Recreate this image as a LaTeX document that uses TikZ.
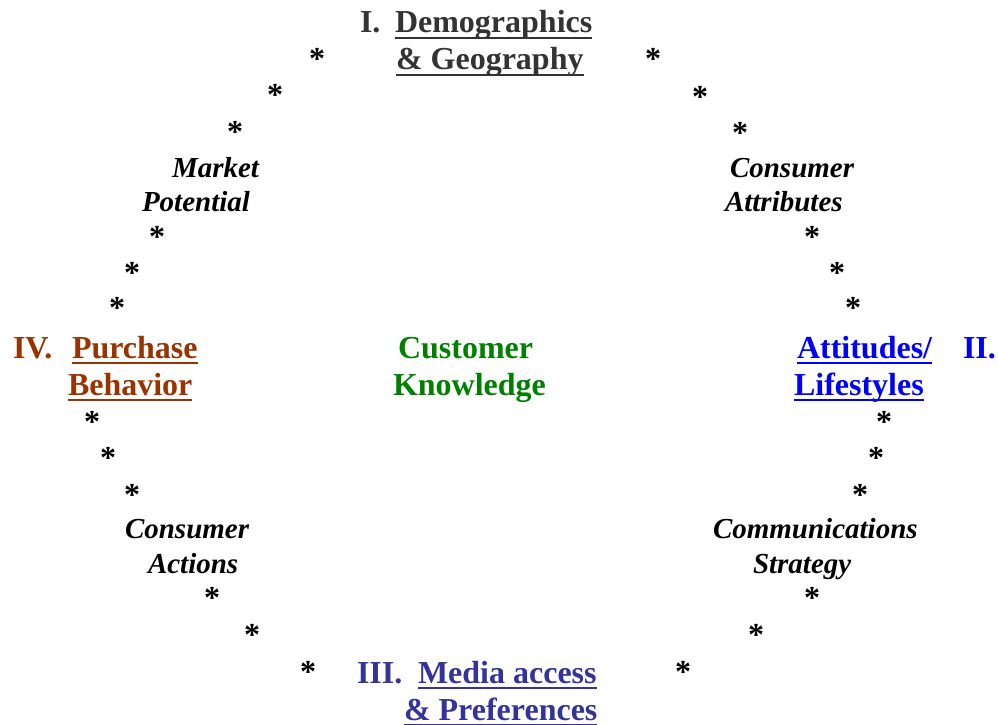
\documentclass[tikz,border=0pt]{standalone}
\usepackage{fontspec}
\setmainfont{Liberation Serif}
\definecolor{headgray}{HTML}{333333}
\definecolor{headbrown}{HTML}{993300}
\definecolor{headgreen}{HTML}{008000}
\definecolor{headblue}{HTML}{0000FF}
\definecolor{headnavy}{HTML}{333399}
\tikzset{
  head/.style={anchor=base west, inner sep=0pt, outer sep=0pt,
    font=\fontsize{32}{37}\selectfont\bfseries},
  sublabel/.style={anchor=base west, inner sep=0pt, outer sep=0pt,
    font=\fontsize{29}{34}\selectfont\bfseries\itshape},
  astx/.style={anchor=base, inner sep=0pt, outer sep=0pt,
    font=\fontsize{32}{37}\selectfont\bfseries},
  ul/.style={line width=2.8pt}
}
\newcommand{\underl}[2]{\draw[ul,#1] ([yshift=-5pt]#2.base west) -- ([yshift=-5pt]#2.base east);}
\begin{document}
\begin{tikzpicture}[x=1pt,y=-1pt]
\useasboundingbox (0,0) rectangle (998,725);

% I. Demographics & Geography
\node[head,headgray] (n1) at (360,33) {I.};
\node[head,headgray] (demo) at (395,33) {Demographics};
\node[head,headgray] (geo) at (396,70) {\& Geography};
\underl{headgray}{demo}
\underl{headgray}{geo}

% II. Attitudes / Lifestyles
\node[head,headblue] (att) at (797,358) {Attitudes/};
\node[head,headblue] (n2) at (963,358) {II.};
\node[head,headblue] (life) at (794,395) {Lifestyles};
\underl{headblue}{att}
\underl{headblue}{life}

% III. Media access & Preferences
\node[head,headnavy] (n3) at (357,683) {III.};
\node[head,headnavy] (media) at (418,683) {Media access};
\node[head,headnavy] (pref) at (404,720) {\& Preferences};
\underl{headnavy}{media}
\underl{headnavy}{pref}

% IV. Purchase Behavior
\node[head,headbrown] (n4) at (13,358) {IV.};
\node[head,headbrown] (purch) at (72,358) {Purchase};
\node[head,headbrown] (behav) at (68,395) {Behavior};
\underl{headbrown}{purch}
\underl{headbrown}{behav}

% centre
\node[head,headgreen] (cust) at (398,358) {Customer};
\node[head,headgreen] (know) at (393,395) {Knowledge};

% linking labels
\node[sublabel] (mkt1) at (172,177) {Market};
\node[sublabel] (mkt2) at (142,211) {Potential};
\node[sublabel] (ca1) at (730,177) {Consumer};
\node[sublabel] (ca2) at (725,211) {Attributes};
\node[sublabel] (cs1) at (713,538) {Communications};
\node[sublabel] (cs2) at (753,573) {Strategy};
\node[sublabel] (cact1) at (125,538) {Consumer};
\node[sublabel] (cact2) at (148,573) {Actions};

% dotted ring of asterisks
\foreach \px/\py [count=\i] in {
  317/55, 275/90, 235/127,
  157/232, 132/268, 117/303,
  92/417, 108/453, 132/490,
  212/593, 252/630, 308/667,
  653/55, 700/92, 740/128,
  812/232, 837/268, 853/303,
  884/417, 876/453, 860/490,
  812/593, 756/630, 683/667}
  \node[astx] (ast\i) at (\px,{\py+15}) {*};
\end{tikzpicture}
\end{document}
